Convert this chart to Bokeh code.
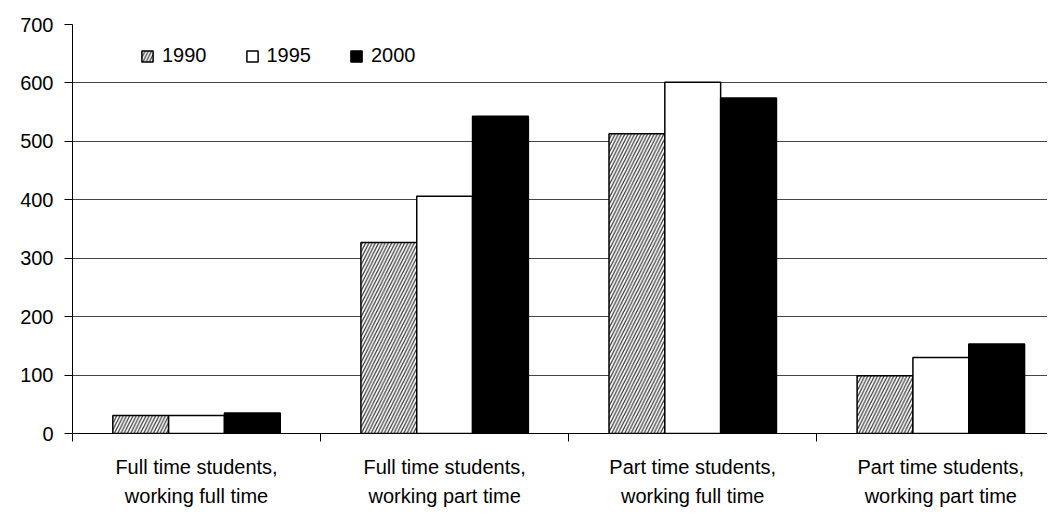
from bokeh.plotting import figure
from bokeh.models import (ColumnDataSource, Range1d, FixedTicker, LinearAxis,
                          Legend, LegendItem)
from bokeh.transform import dodge
from bokeh.embed import file_html
from bokeh.resources import INLINE

categories = ["Full time students, working full time",
              "Full time students, working part time",
              "Part time students, working full time",
              "Part time students, working part time"]
label_line1 = ["Full time students,", "Full time students,",
               "Part time students,", "Part time students,"]
label_line2 = ["working full time", "working part time",
               "working full time", "working part time"]
years = ["1990", "1995", "2000"]
v1990 = [31, 327, 513, 99]
v1995 = [31, 406, 601, 130]
v2000 = [35, 543, 574, 153]
y_ticks = [0, 100, 200, 300, 400, 500, 600, 700]

FONT = "Liberation Sans"
FS = "20px"

centers = [i + 0.5 for i in range(len(categories))]
src = ColumnDataSource(dict(x=centers, v1990=v1990, v1995=v1995, v2000=v2000))

p = figure(frame_width=975, frame_height=409, output_backend="svg",
           toolbar_location=None, x_range=Range1d(0, 3.93),
           y_range=Range1d(0, 700), min_border_left=72, min_border_top=24,
           min_border_right=0, min_border_bottom=0, x_axis_type=None)
p.outline_line_color = None
p.background_fill_color = "white"
p.border_fill_color = "white"

w = 0.225
r1 = p.vbar(x=dodge("x", -w, range=p.x_range), top="v1990", width=w, bottom=0,
            source=src, fill_color="white", line_color="black", line_width=1.5,
            hatch_pattern="/", hatch_color="#3c3c3c", hatch_scale=6.5,
            hatch_weight=1.3)
r2 = p.vbar(x=dodge("x", 0, range=p.x_range), top="v1995", width=w, bottom=0,
            source=src, fill_color="white", line_color="black", line_width=1.5)
r3 = p.vbar(x=dodge("x", w, range=p.x_range), top="v2000", width=w, bottom=0,
            source=src, fill_color="black", line_color="black", line_width=1.5)

# y axis
ya = p.yaxis[0]
ya.ticker = FixedTicker(ticks=y_ticks)
ya.axis_line_color = "black"
ya.major_tick_line_color = "black"
ya.major_tick_out = 8
ya.major_tick_in = 0
ya.minor_tick_line_color = None
ya.major_label_text_font = FONT
ya.major_label_text_font_size = FS
ya.major_label_text_color = "black"
ya.major_label_standoff = 11

p.ygrid.ticker = FixedTicker(ticks=y_ticks)
p.ygrid.grid_line_color = "#454545"
p.ygrid.grid_line_width = 1
p.xgrid.grid_line_color = None

# x axis: line 1 labels + boundary ticks
xa1 = LinearAxis(ticker=FixedTicker(ticks=centers, minor_ticks=[0, 1, 2, 3, 4]),
                 major_label_overrides={c: t for c, t in zip(centers, label_line1)})
xa1.axis_line_color = "black"
xa1.major_tick_line_color = None
xa1.minor_tick_line_color = "black"
xa1.minor_tick_out = 8
xa1.minor_tick_in = 0
xa1.major_label_text_font = FONT
xa1.major_label_text_font_size = FS
xa1.major_label_text_color = "black"
xa1.major_label_standoff = 14
p.add_layout(xa1, "below")

xa2 = LinearAxis(ticker=FixedTicker(ticks=centers),
                 major_label_overrides={c: t for c, t in zip(centers, label_line2)})
xa2.axis_line_color = None
xa2.major_tick_line_color = None
xa2.minor_tick_line_color = None
xa2.major_tick_out = 0
xa2.major_label_text_font = FONT
xa2.major_label_text_font_size = FS
xa2.major_label_text_color = "black"
xa2.major_label_standoff = 4
p.add_layout(xa2, "below")

legend = Legend(items=[LegendItem(label=years[0], renderers=[r1]),
                       LegendItem(label=years[1], renderers=[r2]),
                       LegendItem(label=years[2], renderers=[r3])],
                orientation="horizontal", location=(68, 366))
legend.border_line_color = None
legend.background_fill_alpha = 0
legend.padding = 0
legend.margin = 0
legend.spacing = 38
legend.glyph_width = 14
legend.glyph_height = 14
legend.label_standoff = 8
legend.label_text_font = FONT
legend.label_text_font_size = FS
legend.label_text_color = "black"
p.add_layout(legend, "center")

open("out.html", "w").write(file_html(p, INLINE))
